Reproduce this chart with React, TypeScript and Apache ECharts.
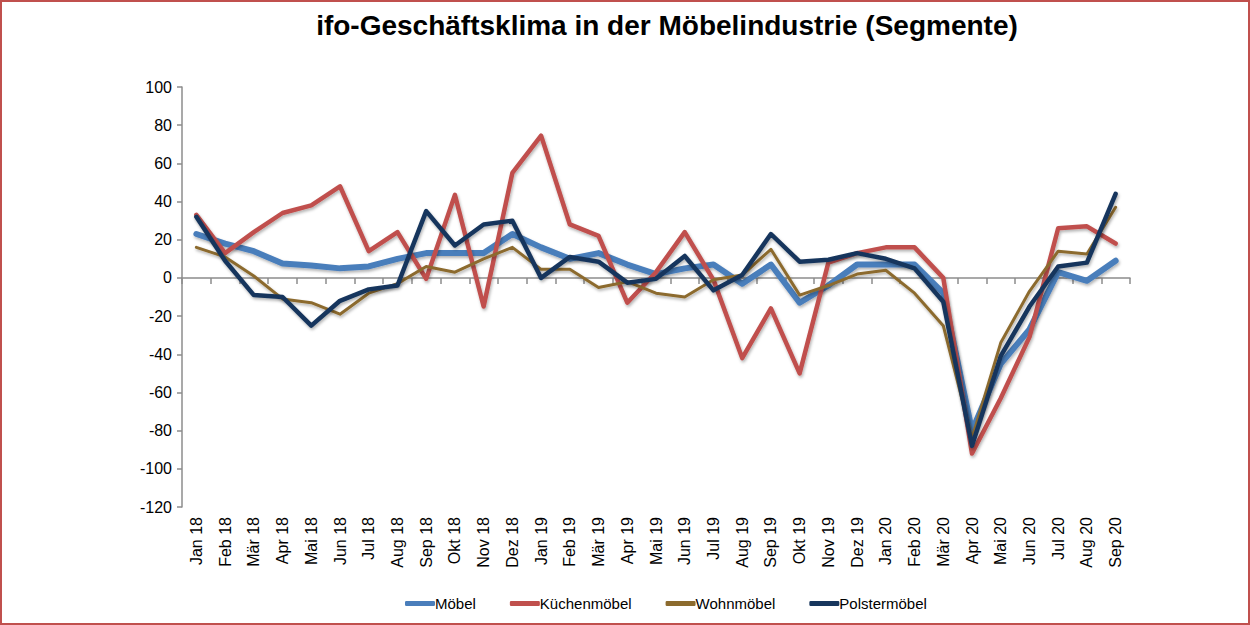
import React, { useEffect, useRef } from 'react';
import * as echarts from 'echarts';

const months = [
  'Jan 18', 'Feb 18', 'Mär 18', 'Apr 18', 'Mai 18', 'Jun 18', 'Jul 18', 'Aug 18', 'Sep 18', 'Okt 18', 'Nov 18', 'Dez 18',
  'Jan 19', 'Feb 19', 'Mär 19', 'Apr 19', 'Mai 19', 'Jun 19', 'Jul 19', 'Aug 19', 'Sep 19', 'Okt 19', 'Nov 19', 'Dez 19',
  'Jan 20', 'Feb 20', 'Mär 20', 'Apr 20', 'Mai 20', 'Jun 20', 'Jul 20', 'Aug 20', 'Sep 20',
];

const moebel = [
  23, 18, 14, 7.5, 6.5, 5, 6, 10, 13, 13, 13, 23,
  16, 10, 13, 7, 2, 5, 7, -3, 7, -13, -4, 7,
  7, 7, -8, -80, -45, -27, 3, -1.5, 9,
];

const kuechenmoebel = [
  33, 13, 24, 34, 38, 48, 14, 24, -0.5, 43.5, -15, 55,
  74.5, 28, 22, -13, 3, 24, -1, -42, -16, -50, 8, 13,
  16, 16, 0, -92, -63, -31, 26, 27, 18,
];

const wohnmoebel = [
  16, 11, 1, -11, -13, -19, -8, -3, 6, 3, 10, 16,
  4.5, 4.5, -5, -2, -8, -10, -1, 1.5, 15, -9, -4, 2,
  4, -8, -25, -84, -34, -7, 14, 12.5, 37,
];

const polstermoebel = [
  32, 9, -9, -10, -25, -12, -6, -4, 35, 17, 28, 30,
  0, 11, 8.5, -2.5, -0.5, 11.5, -6.5, 1.5, 23, 8.5, 9.5, 13,
  10, 5, -12.5, -88, -41, -15, 6, 8, 44,
];

const FONT = '"Liberation Sans", Arial, sans-serif';

const App: React.FC = () => {
  const chartRef = useRef<HTMLDivElement>(null);

  useEffect(() => {
    const chart = echarts.init(chartRef.current!, null, { renderer: 'svg' });

    const line = (name: string, data: number[], color: string, width: number) => ({
      name,
      type: 'line',
      data,
      xAxisIndex: 0,
      symbol: 'none',
      showSymbol: false,
      itemStyle: { color },
      lineStyle: {
        color,
        width,
        join: 'round',
        cap: 'round',
        shadowColor: 'rgba(0,0,0,0.3)',
        shadowBlur: 3,
        shadowOffsetX: 1,
        shadowOffsetY: 2,
      },
    });

    const options = {
      animation: false,
      textStyle: { fontFamily: FONT },
      title: {
        text: 'ifo-Geschäftsklima in der Möbelindustrie (Segmente)',
        left: 662,
        textAlign: 'center',
        top: 6,
        textStyle: { fontSize: 28, fontWeight: 'bold', color: '#000', fontFamily: FONT },
      },
      legend: {
        bottom: 9,
        left: 400,
        itemWidth: 30,
        itemHeight: 5,
        itemGap: 34,
        icon: 'roundRect',
        textStyle: { fontSize: 15, color: '#000', fontFamily: FONT, padding: [0, 0, 0, -5] },
        data: ['Möbel', 'Küchenmöbel', 'Wohnmöbel', 'Polstermöbel'],
      },
      grid: { left: 182, right: 120, top: 87, bottom: 118 },
      xAxis: [
        {
          type: 'category',
          data: months,
          boundaryGap: true,
          axisLine: { show: false, onZero: false },
          axisTick: { show: false },
          axisLabel: { rotate: 90, fontSize: 16, color: '#000', margin: 10, interval: 0, fontFamily: FONT },
        },
        {
          type: 'category',
          data: months,
          boundaryGap: true,
          position: 'bottom',
          axisLine: { show: true, onZero: true, lineStyle: { color: '#8c8c8c', width: 1.5 } },
          axisTick: { show: true, length: 6, interval: 0, lineStyle: { color: '#8c8c8c', width: 1.5 } },
          axisLabel: { show: false },
        },
      ],
      yAxis: {
        type: 'value',
        min: -120,
        max: 100,
        interval: 20,
        axisLine: { show: true, lineStyle: { color: '#8c8c8c', width: 1.5 } },
        axisTick: { show: true, length: 5, lineStyle: { color: '#8c8c8c', width: 1.5 } },
        splitLine: { show: false },
        axisLabel: { fontSize: 16, color: '#000', margin: 10, fontFamily: FONT },
      },
      series: [
        line('Möbel', moebel, '#4a7ebb', 6),
        line('Küchenmöbel', kuechenmoebel, '#c0504d', 4.5),
        line('Wohnmöbel', wohnmoebel, '#8c6b2e', 3),
        line('Polstermöbel', polstermoebel, '#17365d', 4.5),
      ],
    };

    chart.setOption(options);

    return () => {
      chart.dispose();
    };
  }, []);

  return (
    <div style={{ position: 'absolute', left: 0, top: 0, width: '1250px', height: '625px', background: '#fff' }}>
      <div ref={chartRef} style={{ position: 'absolute', left: 0, top: 0, width: '1250px', height: '625px' }}></div>
      <div
        style={{
          position: 'absolute',
          left: 0,
          top: 0,
          width: '1250px',
          height: '625px',
          boxSizing: 'border-box',
          border: '2px solid #c0504d',
          pointerEvents: 'none',
        }}
      ></div>
    </div>
  );
};

export default App;
